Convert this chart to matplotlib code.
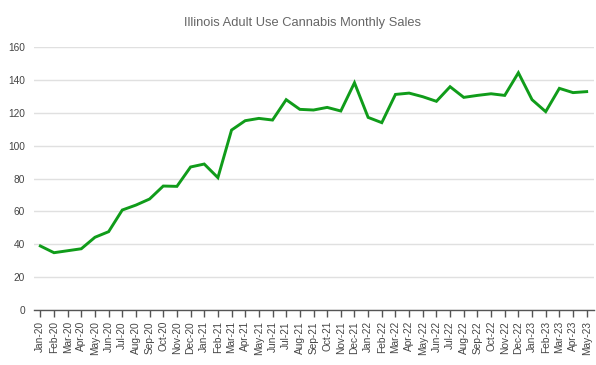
import matplotlib
matplotlib.use("Agg")
import matplotlib.pyplot as plt

months = ["Jan-20", "Feb-20", "Mar-20", "Apr-20", "May-20", "Jun-20", "Jul-20", "Aug-20",
          "Sep-20", "Oct-20", "Nov-20", "Dec-20", "Jan-21", "Feb-21", "Mar-21", "Apr-21",
          "May-21", "Jun-21", "Jul-21", "Aug-21", "Sep-21", "Oct-21", "Nov-21", "Dec-21",
          "Jan-22", "Feb-22", "Mar-22", "Apr-22", "May-22", "Jun-22", "Jul-22", "Aug-22",
          "Sep-22", "Oct-22", "Nov-22", "Dec-22", "Jan-23", "Feb-23", "Mar-23", "Apr-23",
          "May-23"]
sales = [39.0, 34.9, 36.1, 37.3, 44.3, 47.7, 60.9, 63.9, 67.6, 75.5, 75.3, 87.1, 88.9,
         80.6, 109.6, 115.3, 116.7, 115.7, 128.1, 122.2, 121.8, 123.4, 121.2, 138.4, 117.3,
         114.1, 131.3, 132.1, 129.9, 127.1, 136.0, 129.5, 130.7, 131.7, 130.7, 144.5, 128.1,
         120.8, 135.0, 132.4, 133.0]
yticks = [0, 20, 40, 60, 80, 100, 120, 140, 160]
title = "Illinois Adult Use Cannabis Monthly Sales"

plt.rcParams['font.family'] = ['Liberation Sans', 'DejaVu Sans']

fig = plt.figure(figsize=(5.96, 3.65), dpi=100)
ax = fig.add_axes([33.5 / 596, 55 / 365, 560 / 596, 262.7 / 365])

x = list(range(len(months)))
ax.plot(x, sales, color="#109c1a", linewidth=2.1, solid_joinstyle="miter")

ax.set_xlim(-0.5, len(months) - 0.5)
ax.set_ylim(0, 160)
ax.set_yticks(yticks)
ax.set_xticks(x)
ax.set_xticklabels(months, rotation=90, fontsize=7.3, color="#444444")
ax.tick_params(axis="y", length=0, labelsize=7.3, labelcolor="#444444", pad=6)
ax.tick_params(axis="x", length=5, width=1, color="#555555", pad=3)
ax.grid(axis="y", color="#e0e0e0", linewidth=1)
ax.set_axisbelow(True)
for s in ["top", "right", "left"]:
    ax.spines[s].set_visible(False)
ax.spines["bottom"].set_color("#555555")
ax.spines["bottom"].set_linewidth(1)
ax.spines["bottom"].set_zorder(3)

fig.text(303 / 596, 1 - 23 / 365, title, ha="center", va="center", fontsize=9.3, color="#666666")

fig.savefig("out.png", dpi=100, facecolor="white")
